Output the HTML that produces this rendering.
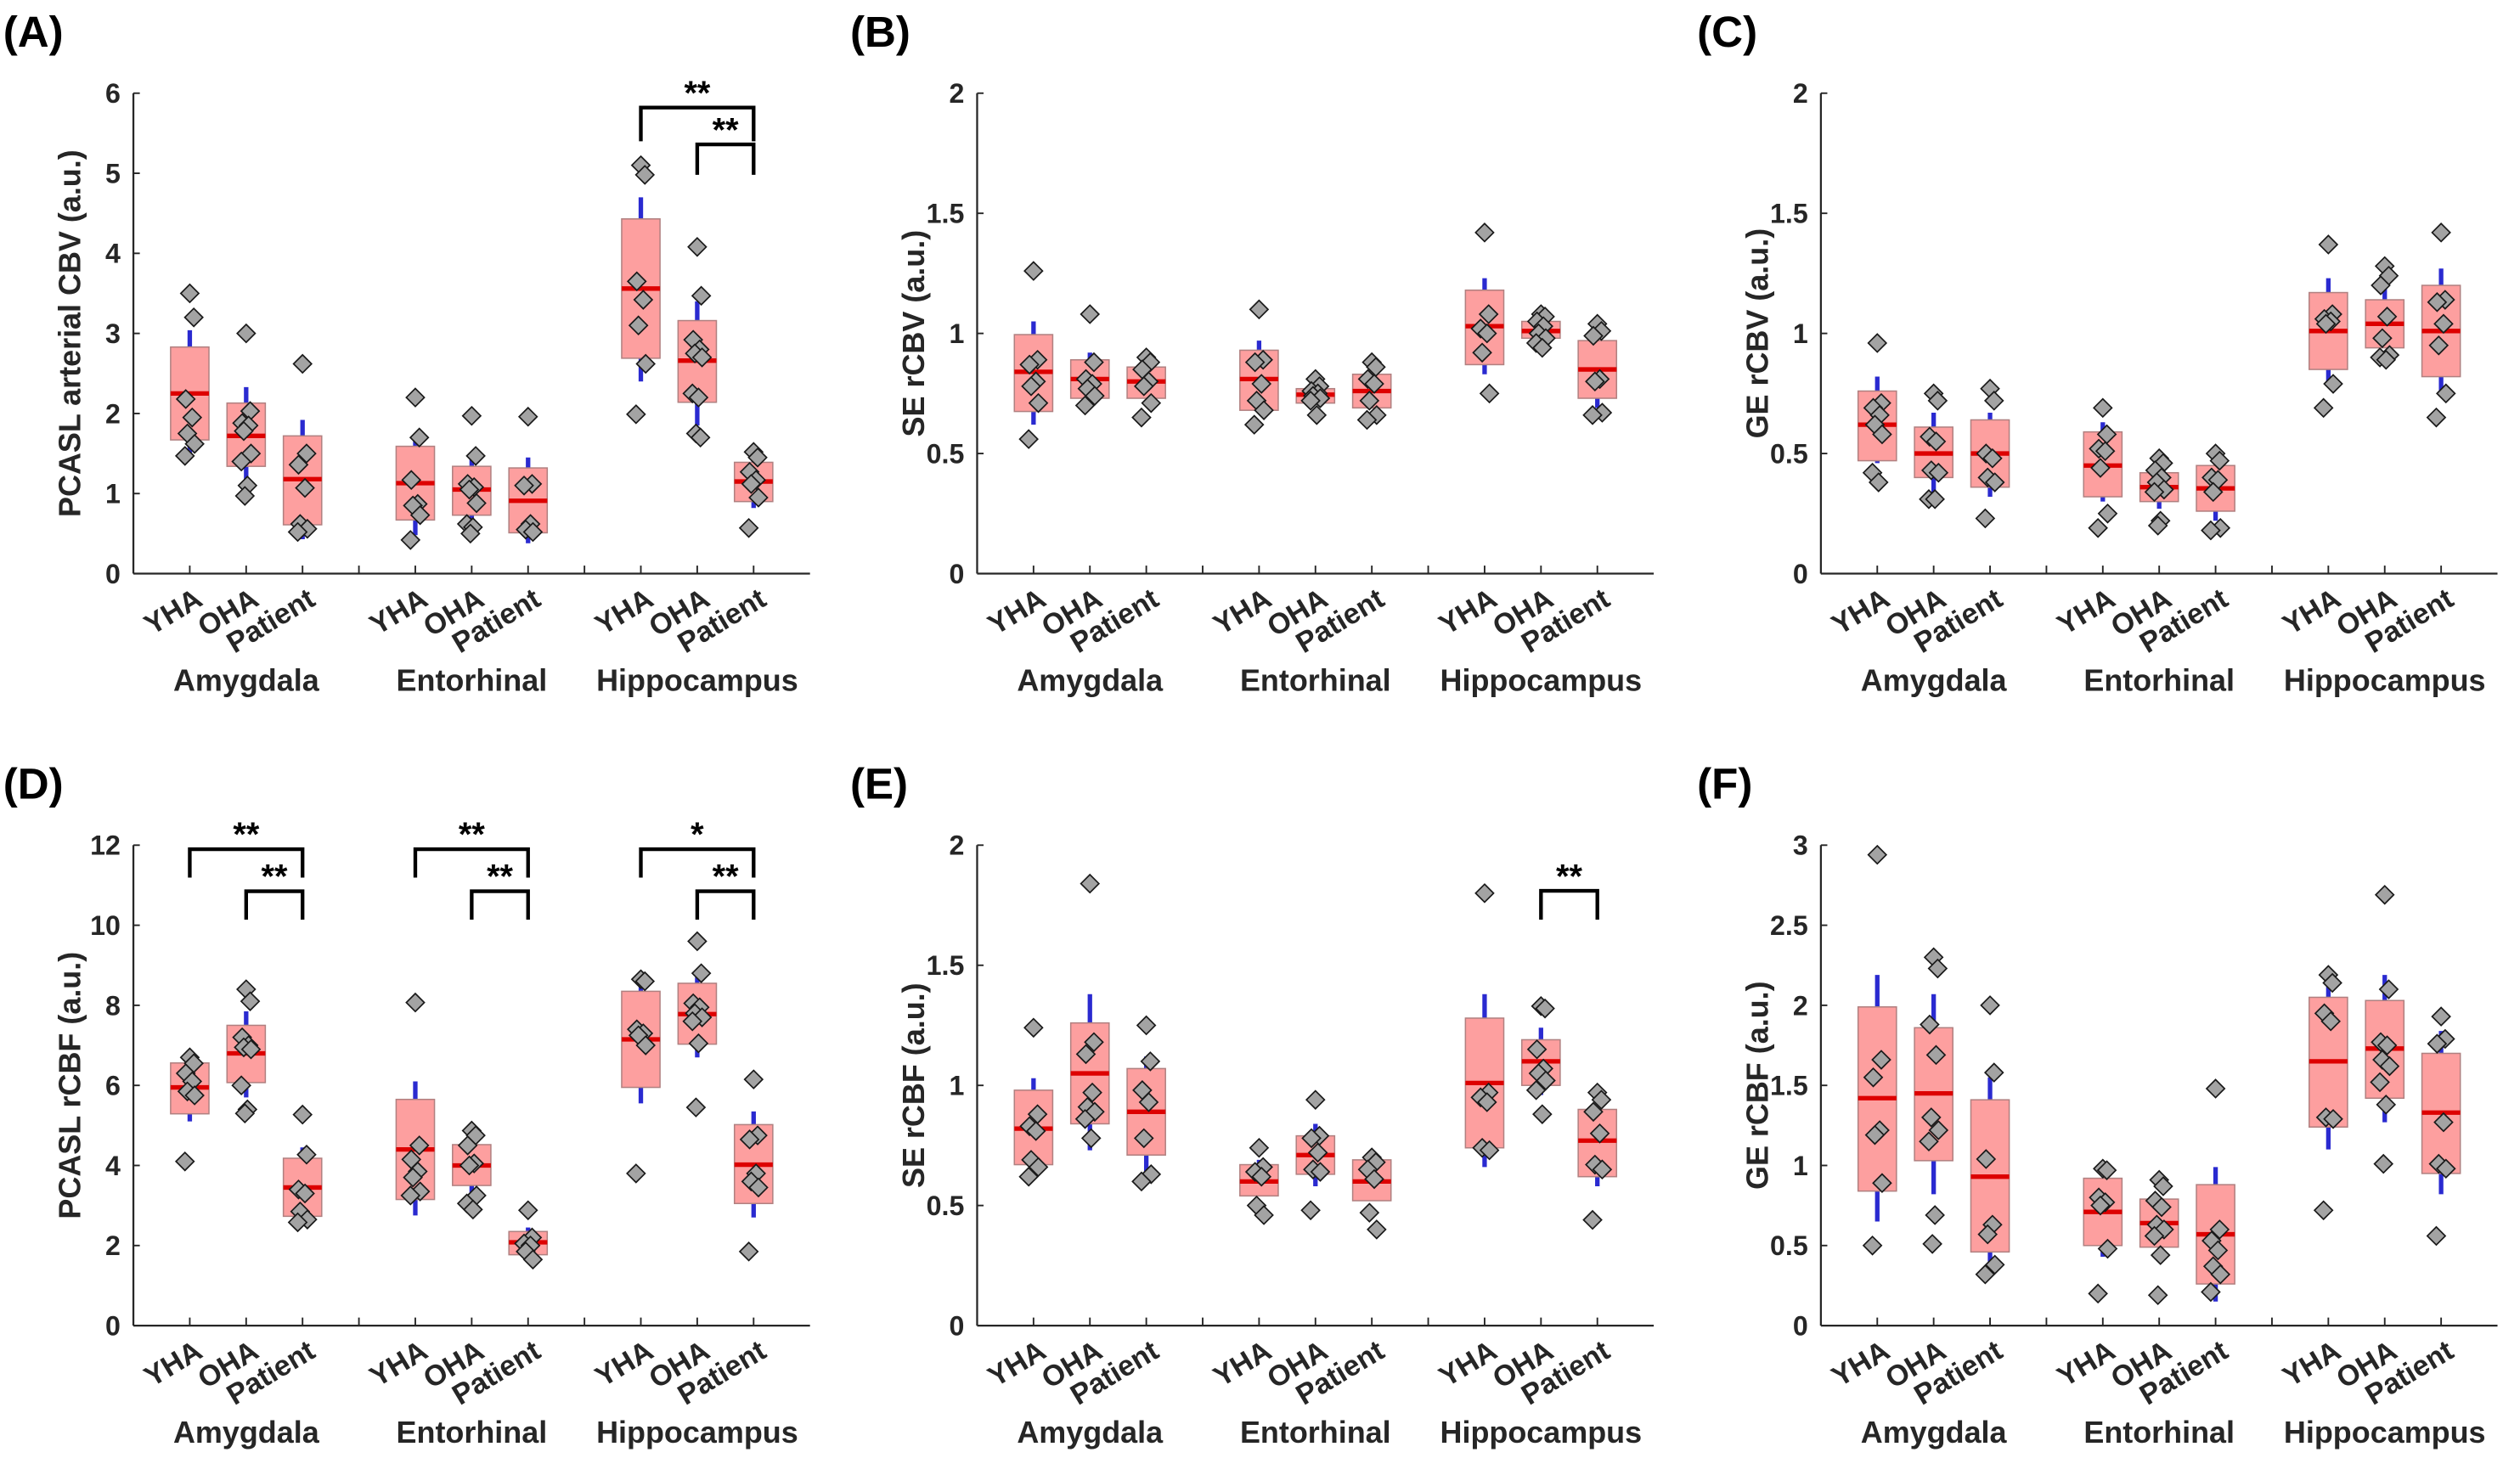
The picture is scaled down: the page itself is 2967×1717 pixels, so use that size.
<!DOCTYPE html>
<html><head><meta charset="utf-8"><style>
html,body{margin:0;padding:0;background:#fff;}
svg{display:block;font-family:"Liberation Sans",Arial,sans-serif;}
</style></head><body>
<svg id="fig" width="2967" height="1717" viewBox="0 0 1568 907.4" xmlns="http://www.w3.org/2000/svg"></svg>
<script>
// ---------- DATA ----------
const groups = ["YHA","OHA","Patient"];
const regions = ["Amygdala","Entorhinal","Hippocampus"];
// [boxLow, boxHigh, median, whiskerLow, whiskerHigh]
const statsA = [[1.67,2.83,2.25,1.5,3.04],[1.34,2.13,1.72,0.97,2.33],[0.61,1.72,1.18,0.43,1.92],[0.67,1.59,1.13,0.48,1.72],[0.73,1.34,1.05,0.55,1.45],[0.51,1.32,0.91,0.38,1.45],[2.69,4.43,3.56,2.4,4.7],[2.14,3.16,2.66,1.85,3.4],[0.9,1.39,1.15,0.82,1.45]];
const pointsA = [[3.5,3.2,2.18,1.95,1.75,1.62,1.47],[3.0,2.03,1.88,1.85,1.78,1.5,1.4,1.1,0.97],[2.62,1.5,1.36,1.07,0.62,0.56,0.52],[2.2,1.7,1.17,0.87,0.85,0.73,0.42],[1.97,1.47,1.12,1.08,1.05,0.88,0.62,0.58,0.5],[1.96,1.12,1.1,0.62,0.55,0.52],[5.1,4.98,3.65,3.42,3.1,2.62,1.99],[4.08,3.47,2.92,2.8,2.75,2.7,2.25,2.2,1.75,1.7],[1.52,1.45,1.27,1.17,1.12,0.95,0.57]];
const statsB = [[0.675,0.995,0.84,0.62,1.05],[0.73,0.89,0.81,0.75,0.92],[0.73,0.86,0.8,0.73,0.86],[0.68,0.93,0.81,0.68,0.97],[0.71,0.77,0.745,0.71,0.79],[0.69,0.83,0.76,0.69,0.83],[0.87,1.18,1.03,0.83,1.23],[0.98,1.05,1.01,0.97,1.06],[0.73,0.97,0.85,0.69,0.97]];
const pointsB = [[1.26,0.89,0.87,0.8,0.78,0.71,0.56],[1.08,0.88,0.81,0.79,0.77,0.74,0.7],[0.9,0.88,0.85,0.8,0.78,0.71,0.65],[1.1,0.89,0.88,0.79,0.72,0.68,0.62],[0.81,0.78,0.76,0.75,0.74,0.73,0.72,0.66],[0.88,0.86,0.81,0.79,0.72,0.66,0.64],[1.42,1.08,1.02,1.0,0.92,0.75],[1.08,1.07,1.05,1.03,1.0,0.98,0.96,0.94],[1.04,1.01,0.99,0.81,0.8,0.67,0.66]];
const statsC = [[0.47,0.76,0.62,0.46,0.82],[0.4,0.61,0.5,0.33,0.67],[0.36,0.64,0.5,0.32,0.67],[0.32,0.59,0.45,0.3,0.63],[0.3,0.42,0.36,0.27,0.47],[0.26,0.45,0.355,0.22,0.45],[0.85,1.17,1.01,0.8,1.23],[0.94,1.14,1.04,0.94,1.23],[0.82,1.2,1.01,0.76,1.27]];
const pointsC = [[0.96,0.71,0.69,0.66,0.62,0.58,0.42,0.38],[0.75,0.72,0.57,0.55,0.43,0.42,0.31,0.31],[0.77,0.72,0.5,0.48,0.4,0.38,0.23],[0.69,0.58,0.52,0.51,0.44,0.25,0.19],[0.48,0.46,0.43,0.4,0.38,0.35,0.34,0.22,0.2],[0.5,0.47,0.4,0.39,0.34,0.19,0.18],[1.37,1.08,1.06,1.05,1.04,0.79,0.69],[1.28,1.24,1.2,1.07,0.98,0.91,0.9,0.89],[1.42,1.14,1.13,1.04,0.95,0.75,0.65]];
const statsD = [[5.29,6.56,5.95,5.1,6.7],[6.07,7.5,6.8,5.7,7.85],[2.73,4.18,3.45,2.55,4.45],[3.15,5.65,4.4,2.75,6.1],[3.5,4.52,4.0,3.0,4.8],[1.77,2.35,2.08,1.75,2.45],[5.95,8.35,7.15,5.55,8.5],[7.03,8.55,7.78,6.7,8.7],[3.05,5.02,4.02,2.7,5.35]];
const pointsD = [[6.7,6.55,6.3,6.1,5.85,5.75,4.1],[8.4,8.1,7.2,7.0,6.95,6.9,6.0,5.4,5.3],[5.27,4.27,3.4,3.3,2.85,2.65,2.58],[8.07,4.5,4.15,3.85,3.7,3.35,3.25],[4.87,4.75,4.5,4.05,4.0,3.25,3.05,2.9],[2.88,2.2,2.05,2.0,1.85,1.65],[8.65,8.6,7.4,7.3,7.25,7.0,3.8],[9.6,8.8,8.05,7.95,7.8,7.7,7.6,7.05,5.45],[6.15,4.75,4.65,3.8,3.6,3.45,1.85]];
const statsE = [[0.67,0.98,0.82,0.67,1.03],[0.84,1.26,1.05,0.73,1.38],[0.71,1.07,0.89,0.59,1.12],[0.54,0.67,0.6,0.54,0.69],[0.63,0.79,0.71,0.58,0.84],[0.52,0.69,0.6,0.52,0.69],[0.74,1.28,1.01,0.66,1.38],[1.0,1.19,1.1,0.96,1.24],[0.62,0.9,0.77,0.58,0.9]];
const pointsE = [[1.24,0.88,0.83,0.81,0.69,0.66,0.62],[1.84,1.18,1.13,0.97,0.91,0.89,0.86,0.78],[1.25,1.1,0.98,0.93,0.78,0.63,0.6],[0.74,0.66,0.64,0.62,0.5,0.46],[0.94,0.79,0.78,0.72,0.65,0.64,0.48],[0.7,0.68,0.65,0.61,0.47,0.4],[1.8,0.97,0.95,0.93,0.74,0.73],[1.33,1.32,1.15,1.07,1.05,1.02,0.98,0.88],[0.97,0.94,0.89,0.8,0.67,0.65,0.44]];
const statsF = [[0.84,1.99,1.42,0.65,2.19],[1.03,1.86,1.45,0.82,2.07],[0.46,1.41,0.93,0.4,1.55],[0.5,0.92,0.71,0.43,0.92],[0.49,0.79,0.64,0.49,0.79],[0.26,0.88,0.57,0.15,0.99],[1.24,2.05,1.65,1.1,2.2],[1.42,2.03,1.73,1.27,2.19],[0.95,1.7,1.33,0.82,1.84]];
const pointsF = [[2.94,1.66,1.55,1.22,1.19,0.89,0.5],[2.3,2.23,1.88,1.69,1.3,1.22,1.15,0.69,0.51],[2.0,1.58,1.04,0.63,0.57,0.38,0.32],[0.98,0.97,0.8,0.77,0.75,0.48,0.2],[0.91,0.87,0.78,0.74,0.63,0.6,0.56,0.44,0.19],[1.48,0.6,0.53,0.47,0.37,0.32,0.21],[2.19,2.14,1.95,1.9,1.3,1.29,0.72],[2.69,2.1,1.77,1.75,1.66,1.62,1.52,1.38,1.01],[1.93,1.79,1.76,1.27,1.01,0.98,0.56]];
// brackets: [fromCategory, toCategory, topValue, legValue, label]
const bracketsA = [[9,11,5.82,5.4,"**"],[10,11,5.36,4.98,"**"]];
const bracketsB = [];
const bracketsC = [];
const bracketsD = [[1,3,11.9,11.19,"**"],[2,3,10.85,10.14,"**"],[5,7,11.9,11.19,"**"],[6,7,10.85,10.14,"**"],[9,11,11.9,11.19,"*"],[10,11,10.85,10.14,"**"]];
const bracketsE = [[10,11,1.81,1.69,"**"]];
const bracketsF = [];
const yTicksA = [0,1,2,3,4,5,6];
const yTicksB = [0,0.5,1,1.5,2];
const yTicksC = [0,0.5,1,1.5,2];
const yTicksD = [0,2,4,6,8,10,12];
const yTicksE = [0,0.5,1,1.5,2];
const yTicksF = [0,0.5,1,1.5,2,2.5,3];

// ---------- DRAW ----------
const svg = document.getElementById('fig');
const NS = "http://www.w3.org/2000/svg";
function mk(tag, attrs, parent, text){
  const e = document.createElementNS(NS, tag);
  for (const k in attrs) e.setAttribute(k, attrs[k]);
  if (text !== undefined) e.textContent = text;
  (parent||svg).appendChild(e);
  return e;
}
const W = 421, H = 299;
const panels = [
  {id:"A", x0:83, y0:58, title:"PCASL arterial CBV (a.u.)", stats:statsA, pts:pointsA, br:bracketsA, ticks:yTicksA, lx:2},
  {id:"B", x0:608, y0:58, title:"SE rCBV (a.u.)", stats:statsB, pts:pointsB, br:bracketsB, ticks:yTicksB, lx:529},
  {id:"C", x0:1133, y0:58, title:"GE rCBV (a.u.)", stats:statsC, pts:pointsC, br:bracketsC, ticks:yTicksC, lx:1056},
  {id:"D", x0:83, y0:526, title:"PCASL rCBF (a.u.)", stats:statsD, pts:pointsD, br:bracketsD, ticks:yTicksD, lx:2},
  {id:"E", x0:608, y0:526, title:"SE rCBF (a.u.)", stats:statsE, pts:pointsE, br:bracketsE, ticks:yTicksE, lx:529},
  {id:"F", x0:1133, y0:526, title:"GE rCBF (a.u.)", stats:statsF, pts:pointsF, br:bracketsF, ticks:yTicksF, lx:1056}
];
const jit = [0,2.5,-2.5,1.5,-1.5,3,-3,0.8,-0.8,2];
panels.forEach(p => {
  const g = mk('g', {});
  
  
  const ymax = p.ticks[p.ticks.length-1];
  const xs = c => p.x0 + c * W / 12;
  const ys = v => p.y0 + H - v / ymax * H;
  const bottom = p.y0 + H;
  const lab = mk('text', {x:p.lx, y:p.y0-29, 'font-size':27, 'font-weight':'bold', fill:'#000'}, g, "(" + p.id + ")");
  
  
  const yt = mk('text', {x:0, y:0, 'font-size':19, 'font-weight':'bold', fill:'#262626', 'text-anchor':'middle',
    transform:`translate(${p.x0-33},${p.y0+H/2}) rotate(-90)`}, g, p.title);
  
  
  p.ticks.forEach(t => {
    mk('line', {x1:p.x0, x2:p.x0+4, y1:ys(t), y2:ys(t), stroke:'#262626', 'stroke-width':1}, g);
    const tl = mk('text', {x:p.x0-8, y:ys(t)+6, 'font-size':17, 'font-weight':'bold', fill:'#262626', 'text-anchor':'end'}, g, String(t));
    
    
  });
  for (let c = 1; c <= 11; c++) {
    mk('line', {x1:xs(c), x2:xs(c), y1:bottom, y2:bottom-5, stroke:'#262626', 'stroke-width':1}, g);
  }
  p.stats.forEach((s, i) => {
    const c = Math.floor(i/3)*4 + (i%3) + 1;
    const cx = xs(c);
    const bw = W/12*0.68;
    const wl = mk('line', {x1:cx, x2:cx, y1:ys(s[3]), y2:ys(s[4]), stroke:'#2a2ad0', 'stroke-width':2.8}, g);
    
    
    const bx = mk('rect', {x:cx-bw/2, y:ys(s[1]), width:bw, height:ys(s[0])-ys(s[1]), fill:'#fd9f9f', stroke:'#b08080', 'stroke-width':0.8}, g);
    
    
    const md = mk('line', {x1:cx-bw/2, x2:cx+bw/2, y1:ys(s[2]), y2:ys(s[2]), stroke:'#dd0000', 'stroke-width':2.8}, g);
    
    
    p.pts[i].forEach((v, k) => {
      const px = cx + jit[k % jit.length], py = ys(v), r = 5.6;
      const d = mk('path', {d:`M${px},${py-r} L${px+r},${py} L${px},${py+r} L${px-r},${py} Z`, fill:'#a3a3a3', stroke:'#1a1a1a', 'stroke-width':0.9}, g);
      
      
    });
    const xl = mk('text', {x:0, y:0, 'font-size':18, 'font-weight':'bold', fill:'#262626', 'text-anchor':'end',
      transform:`translate(${cx+9},${bottom+19}) rotate(-31)`}, g, groups[i%3]);
    
    
  });
  mk('line', {x1:p.x0, x2:p.x0, y1:p.y0, y2:bottom, stroke:'#262626', 'stroke-width':1.2}, g);
  mk('line', {x1:p.x0, x2:p.x0+W, y1:bottom, y2:bottom, stroke:'#262626', 'stroke-width':1.2}, g);
  regions.forEach((r, j) => {
    const rl = mk('text', {x:xs(j*4+2), y:bottom+73, 'font-size':19, 'font-weight':'bold', fill:'#262626', 'text-anchor':'middle'}, g, r);
    
    
  });
  p.br.forEach(b => {
    const x1 = xs(b[0]), x2 = xs(b[1]), yt2 = ys(b[2]), yl = ys(b[3]);
    const bp = mk('path', {d:`M${x1},${yl} L${x1},${yt2} L${x2},${yt2} L${x2},${yl}`, fill:'none', stroke:'#000', 'stroke-width':2.3}, g);
    
    
    const st = mk('text', {x:(x1+x2)/2, y:yt2-2, 'font-size':21, 'font-weight':'bold', fill:'#000', 'text-anchor':'middle'}, g, b[4]);
    
    
  });
});
</script>
</body></html>
